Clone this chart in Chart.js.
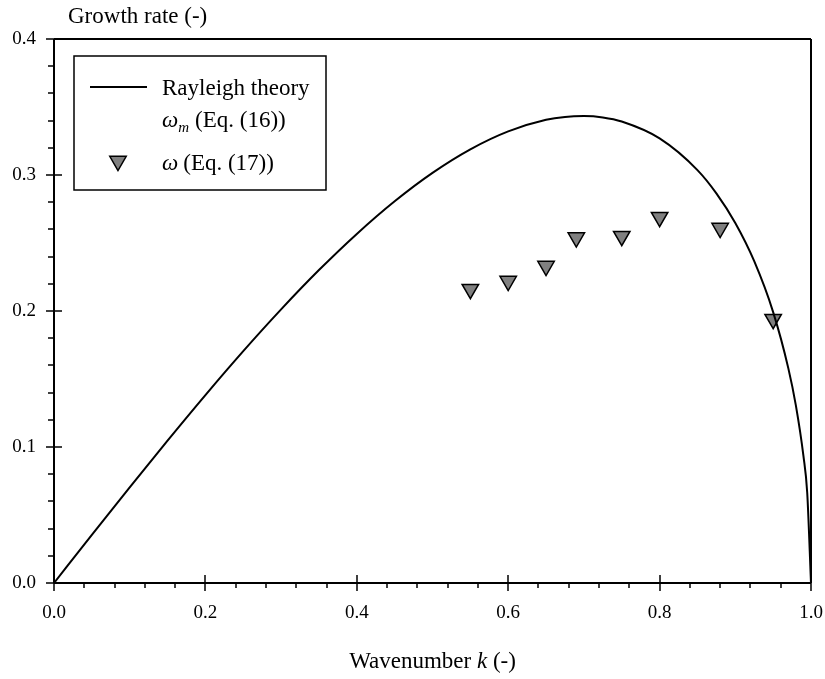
<!DOCTYPE html>
<html>
<head>
<meta charset="utf-8">
<script src="https://cdn.jsdelivr.net/npm/chart.js@4.4.1/dist/chart.umd.min.js"></script>
<style>
  html, body { margin: 0; padding: 0; background: #fff; }
  canvas { display: block; }
</style>
</head>
<body>
<canvas id="c" width="825" height="679"></canvas>
<script>
// Rayleigh theory curve
const kTheory = [0, 0.05, 0.1, 0.15, 0.2, 0.25, 0.3, 0.35, 0.4, 0.45, 0.5, 0.55, 0.6, 0.65, 0.675, 0.7, 0.725, 0.75, 0.8, 0.85, 0.875, 0.9, 0.925, 0.95, 0.97, 0.98, 0.99, 0.995, 1.0];
const wTheory = [0, 0.0353, 0.0703, 0.1047, 0.1382, 0.1705, 0.2012, 0.2301, 0.2567, 0.2807, 0.3016, 0.3189, 0.3321, 0.3406, 0.3427, 0.3433, 0.3423, 0.3393, 0.3269, 0.3036, 0.2865, 0.2647, 0.2366, 0.1992, 0.1580, 0.1306, 0.0934, 0.0664, 0];

// omega (Eq. (17)) points
const kEq17 = [0.55, 0.60, 0.65, 0.69, 0.75, 0.80, 0.88, 0.95];
const wEq17 = [0.216, 0.222, 0.233, 0.254, 0.255, 0.269, 0.261, 0.194];

const xTicks = [0, 0.2, 0.4, 0.6, 0.8, 1.0];
const yTicks = [0, 0.1, 0.2, 0.3, 0.4];

const SERIF = "'Liberation Serif', 'Times New Roman', serif";

// frame, ticks, titles, legend
const decor = {
  id: 'decor',
  afterDraw(chart) {
    const ctx = chart.ctx;
    const a = chart.chartArea;
    const xs = chart.scales.x, ys = chart.scales.y;
    ctx.save();
    ctx.strokeStyle = '#000';
    ctx.lineWidth = 2;
    ctx.beginPath();
    ctx.moveTo(a.left, a.top); ctx.lineTo(a.right, a.top);
    ctx.moveTo(a.right, a.top); ctx.lineTo(a.right, a.bottom);
    ctx.moveTo(a.left, a.bottom); ctx.lineTo(a.right, a.bottom);
    ctx.moveTo(a.left, a.top); ctx.lineTo(a.left, a.bottom);
    ctx.stroke();

    ctx.lineWidth = 1.5;
    ctx.beginPath();
    for (let i = 0; i <= 25; i++) {
      const px = Math.round(xs.getPixelForValue(i * 0.04));
      if (i % 5 === 0) { ctx.moveTo(px, a.bottom - 8); ctx.lineTo(px, a.bottom + 8); }
      else { ctx.moveTo(px, a.bottom); ctx.lineTo(px, a.bottom + 5); }
    }
    for (let i = 0; i <= 20; i++) {
      const py = Math.round(ys.getPixelForValue(i * 0.02));
      if (i % 5 === 0) { ctx.moveTo(a.left - 8, py); ctx.lineTo(a.left + 8, py); }
      else { ctx.moveTo(a.left - 6, py); ctx.lineTo(a.left, py); }
    }
    ctx.stroke();

    ctx.fillStyle = '#000';
    ctx.textBaseline = 'alphabetic';
    ctx.textAlign = 'left';
    ctx.font = '23px ' + SERIF;
    ctx.fillText('Growth rate (-)', 68, 23);

    // x title with italic k
    const p1 = 'Wavenumber ', p2 = 'k', p3 = ' (-)';
    ctx.font = '23px ' + SERIF;
    const w1 = ctx.measureText(p1).width, w3 = ctx.measureText(p3).width;
    ctx.font = 'italic 23px ' + SERIF;
    const w2 = ctx.measureText(p2).width;
    let tx = (a.left + a.right) / 2 - (w1 + w2 + w3) / 2;
    ctx.font = '23px ' + SERIF;
    ctx.fillText(p1, tx, 668); tx += w1;
    ctx.font = 'italic 23px ' + SERIF;
    ctx.fillText(p2, tx, 668); tx += w2;
    ctx.font = '23px ' + SERIF;
    ctx.fillText(p3, tx, 668);

    // legend
    ctx.lineWidth = 1.5;
    ctx.strokeRect(74, 56, 252, 134);
    ctx.lineWidth = 2;
    ctx.beginPath(); ctx.moveTo(90, 87); ctx.lineTo(147, 87); ctx.stroke();
    ctx.font = '23px ' + SERIF;
    ctx.fillText('Rayleigh theory', 162, 95);

    ctx.font = 'italic 23px ' + SERIF;
    ctx.fillText('\u03c9', 162, 127);
    let lx = 162 + ctx.measureText('\u03c9').width;
    ctx.font = 'italic 15px ' + SERIF;
    ctx.fillText('m', lx, 132);
    lx += ctx.measureText('m').width + 6;
    ctx.font = '23px ' + SERIF;
    ctx.fillText('(Eq. (16))', lx, 127);

    ctx.font = 'italic 23px ' + SERIF;
    ctx.fillText('\u03c9', 162, 170);
    lx = 162 + ctx.measureText('\u03c9').width + 5;
    ctx.font = '23px ' + SERIF;
    ctx.fillText('(Eq. (17))', lx, 170);

    // legend triangle
    const r = 9.5, cx = 118, cy = 161;
    ctx.beginPath();
    ctx.moveTo(cx, cy + r);
    ctx.lineTo(cx - r * Math.sqrt(3) / 2, cy - r / 2);
    ctx.lineTo(cx + r * Math.sqrt(3) / 2, cy - r / 2);
    ctx.closePath();
    ctx.fillStyle = '#808080';
    ctx.fill();
    ctx.lineWidth = 1.5;
    ctx.stroke();
    ctx.restore();
  }
};

new Chart(document.getElementById('c'), {
  type: 'scatter',
  data: {
    datasets: [
      {
        label: 'Rayleigh theory',
        data: kTheory.map((k, i) => ({ x: k, y: wTheory[i] })),
        showLine: true,
        borderColor: '#000',
        borderWidth: 2,
        pointRadius: 0,
        cubicInterpolationMode: 'monotone',
        fill: false
      },
      {
        label: 'omega (Eq. (17))',
        data: kEq17.map((k, i) => ({ x: k, y: wEq17[i] })),
        pointStyle: 'triangle',
        rotation: 180,
        pointRadius: 9.5,
        backgroundColor: '#808080',
        borderColor: '#000',
        borderWidth: 1.5
      }
    ]
  },
  options: {
    responsive: false,
    animation: false,
    layout: { padding: { top: 39, right: 14, left: 0, bottom: 0 } },
    plugins: { legend: { display: false }, tooltip: { enabled: false } },
    scales: {
      x: {
        type: 'linear', min: 0, max: 1,
        grid: { display: false, drawTicks: false },
        border: { display: false },
        afterFit: s => { s.height = 96; s.paddingLeft = 0; s.paddingRight = 0; },
        afterBuildTicks: s => { s.ticks = xTicks.map(v => ({ value: v })); },
        ticks: { padding: 19, color: '#000', font: { family: SERIF, size: 19 }, callback: v => v.toFixed(1) }
      },
      y: {
        type: 'linear', min: 0, max: 0.4,
        grid: { display: false, drawTicks: false },
        border: { display: false },
        afterFit: s => { s.width = 54; s.paddingTop = 0; s.paddingBottom = 0; },
        afterBuildTicks: s => { s.ticks = yTicks.map(v => ({ value: v })); },
        ticks: { padding: 18, color: '#000', font: { family: SERIF, size: 19 }, callback: v => v.toFixed(1) }
      }
    }
  },
  plugins: [decor]
});
</script>
</body>
</html>
